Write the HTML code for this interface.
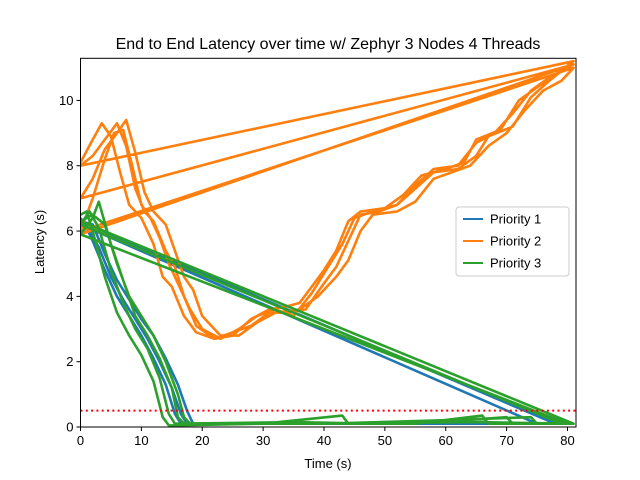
<!DOCTYPE html>
<html><head><meta charset="utf-8"><style>
body{margin:0;background:#fff;}
svg{display:block;font-family:"Liberation Sans","DejaVu Sans",sans-serif;}
</style></head><body>
<svg id="chart" width="640" height="480">
<rect width="640" height="480" fill="#fff"/>
<text x="328" y="49" font-size="16" text-anchor="middle">End to End Latency over time w/ Zephyr 3 Nodes 4 Threads</text>
<text x="328" y="468" font-size="13" text-anchor="middle">Time (s)</text>
<text transform="translate(44,242) rotate(-90)" font-size="13" text-anchor="middle">Latency (s)</text>
<g id="plot"></g>
</svg>
<script>
const xTicks=[0,10,20,30,40,50,60,70,80];
const yTicks=[0,2,4,6,8,10];
const threshold=0.5;
// Priority 1 runs (blue)
const p1Runs=[
 [[0,6.4],[1,6.1],[2,5.7],[4,4.8],[6,4.0],[8,3.4],[10,2.8],[12,2.1],[14,1.3],[15.5,0.4],[16.5,0.1],[30,0.1],[50,0.1],[75,0.1]],
 [[0,6.2],[1.5,6.0],[3,5.5],[5,4.6],[7,3.9],[9,3.3],[11,2.7],[13,2.0],[15,1.2],[16.5,0.4],[17.5,0.1],[40,0.1],[60,0.1],[78,0.1]],
 [[0,6.3],[2,6.2],[4,5.3],[6,4.5],[8,3.9],[10,3.3],[12,2.8],[14,2.1],[16,1.3],[17.5,0.5],[18.5,0.1],[40,0.1],[60,0.1],[80,0.1]]
];
// Priority 2 runs (orange)
const p2Runs=[
 [[0,8.1],[2,8.8],[3.5,9.3],[5,8.9],[6.5,7.8],[8,6.8],[10,6.4],[12,5.6],[13.5,4.6],[15,4.3],[17,3.4],[19,2.9],[22,2.7],[25,2.8],[28,3.3],[31,3.6],[34,3.7],[36,3.8],[38,4.3],[40,4.8],[42,5.4],[44,6.3],[46,6.6],[50,6.7],[53,7.1],[56,7.7],[60,7.9],[63,8.1],[65,8.8],[69,9.1],[72,10.0],[75,10.4],[78,10.8],[81,11.2]],
 [[0,8.0],[2,8.3],[4,8.8],[6,9.3],[7.5,8.6],[9,7.3],[10.5,6.6],[12,6.3],[14,5.4],[15.5,4.9],[17,4.0],[19,3.1],[22,2.7],[25,2.9],[28,3.1],[31,3.5],[34,3.5],[37,3.6],[40,4.4],[42,4.9],[44,5.7],[46,6.5],[49,6.6],[52,6.8],[55,7.3],[58,7.8],[62,7.9],[65,8.3],[67,8.9],[71,9.2],[74,10.1],[77,10.6],[79,10.9],[81,11.1]],
 [[0,7.0],[2,7.6],[4,8.5],[6,9.0],[7.5,9.4],[9,8.4],[10.5,7.2],[12,6.6],[14,6.2],[15.5,5.4],[17,4.6],[18.5,4.2],[20,3.4],[23,2.8],[26,2.8],[29,3.2],[32,3.5],[36,3.6],[39,4.0],[42,4.6],[44,5.1],[46,6.0],[48,6.5],[52,6.6],[55,6.9],[58,7.6],[61,7.8],[64,8.0],[67,8.6],[70,9.0],[73,9.7],[76,10.3],[79,10.6],[81,11.0]],
 [[0,6.0],[2,7.0],[4,8.2],[5.5,9.0],[7,9.1],[8.5,8.0],[10,6.8],[11.5,6.4],[13,5.8],[14.5,5.0],[16,4.4],[18,3.6],[20,3.0],[23,2.7],[26,3.0],[29,3.4],[32,3.6],[35,3.4],[38,4.1],[40,4.7],[43,5.6],[45,6.4],[48,6.6],[52,6.8],[55,7.4],[58,7.9],[62,8.0],[65,8.7],[68,9.0],[71,9.6],[74,10.3],[77,10.7],[80,11.0],[81,11.1]],
 [[0,5.9],[1,6.0]]
];
// Priority 3 runs (green)
const p3Runs=[
 [[0,6.5],[1,6.6],[2,6.0],[4,4.6],[6,3.5],[8,2.8],[10,2.2],[12,1.4],[13.5,0.3],[14.5,0.05],[30,0.1],[43,0.35],[44,0.1],[55,0.1],[66,0.35],[67,0.1],[79,0.1]],
 [[0,6.2],[1.5,6.6],[3,6.1],[5,4.8],[7,3.8],[9,3.0],[11,2.4],[13,1.5],[14.5,0.4],[15.5,0.1],[35,0.15],[48,0.1],[62,0.2],[70,0.3],[71,0.1],[80,0.1]],
 [[0,5.9],[2,6.4],[3,6.9],[5,5.6],[7,4.5],[9,3.4],[11,2.8],[13,2.1],[15,1.2],[16,0.3],[17,0.1],[40,0.1],[58,0.2],[74,0.3],[75,0.1],[81,0.1]],
 [[0,6.3],[2,6.5],[4,6.2],[6,5.0],[8,4.0],[10,3.4],[12,2.8],[14,2.0],[16,1.0],[17,0.3],[18,0.1],[40,0.1],[65,0.15],[81,0.1]]
];
const NS="http://www.w3.org/2000/svg";
const L=80.5,R=576,T=58.3,B=427;
const xMax=81.4,yMax=11.29;
const xs=t=>L+t/xMax*(R-L);
const ys=v=>B-v/yMax*(B-T);
const g=document.getElementById('plot');
function mk(tag,attrs){const e=document.createElementNS(NS,tag);for(const k in attrs)e.setAttribute(k,attrs[k]);g.appendChild(e);return e;}
const defs=document.createElementNS(NS,'defs');
defs.innerHTML='<clipPath id="cp"><rect x="'+L+'" y="'+T+'" width="'+(R-L)+'" height="'+(B-T)+'"/></clipPath>';
g.appendChild(defs);
const series=[[p1Runs,'#1f77b4','series-priority-1'],[p2Runs,'#ff7f0e','series-priority-2'],[p3Runs,'#2ca02c','series-priority-3']];
series.forEach(([runs,col,name])=>{
 const pts=[];runs.forEach(r=>r.forEach(p=>pts.push(xs(p[0]).toFixed(1)+','+ys(p[1]).toFixed(1))));
 const pl=mk('polyline',{points:pts.join(' '),fill:'none',stroke:col,'stroke-width':2.6,'stroke-linejoin':'round','clip-path':'url(#cp)'});
 
 
});
const th=mk('line',{x1:L,x2:R,y1:ys(threshold),y2:ys(threshold),stroke:'#ff0000','stroke-width':2,'stroke-dasharray':'2,3.3'});


const fr=mk('rect',{x:L,y:T,width:R-L,height:B-T,fill:'none',stroke:'#000','stroke-width':1});


xTicks.forEach(t=>{
 mk('line',{x1:xs(t),x2:xs(t),y1:B,y2:B+4,stroke:'#000'});
 const tx=mk('text',{x:xs(t),y:B+18,'font-size':13,'text-anchor':'middle'});tx.textContent=t;
 
 
});
yTicks.forEach(v=>{
 mk('line',{x1:L-4,x2:L,y1:ys(v),y2:ys(v),stroke:'#000'});
 const tx=mk('text',{x:L-7,y:ys(v)+4.5,'font-size':13,'text-anchor':'end'});tx.textContent=v;
 
 
});
const lg=mk('rect',{x:456,y:207,width:113,height:69,rx:3,fill:'#fff',stroke:'#ccc'});


const labels=['Priority 1','Priority 2','Priority 3'];
series.forEach(([r,col],i)=>{
 const y=219+i*22;
 mk('line',{x1:463,x2:483,y1:y,y2:y,stroke:col,'stroke-width':2});
 const tx=mk('text',{x:490,y:y+4.5,'font-size':13});tx.textContent=labels[i];
 
 
});
</script>
</body></html>
